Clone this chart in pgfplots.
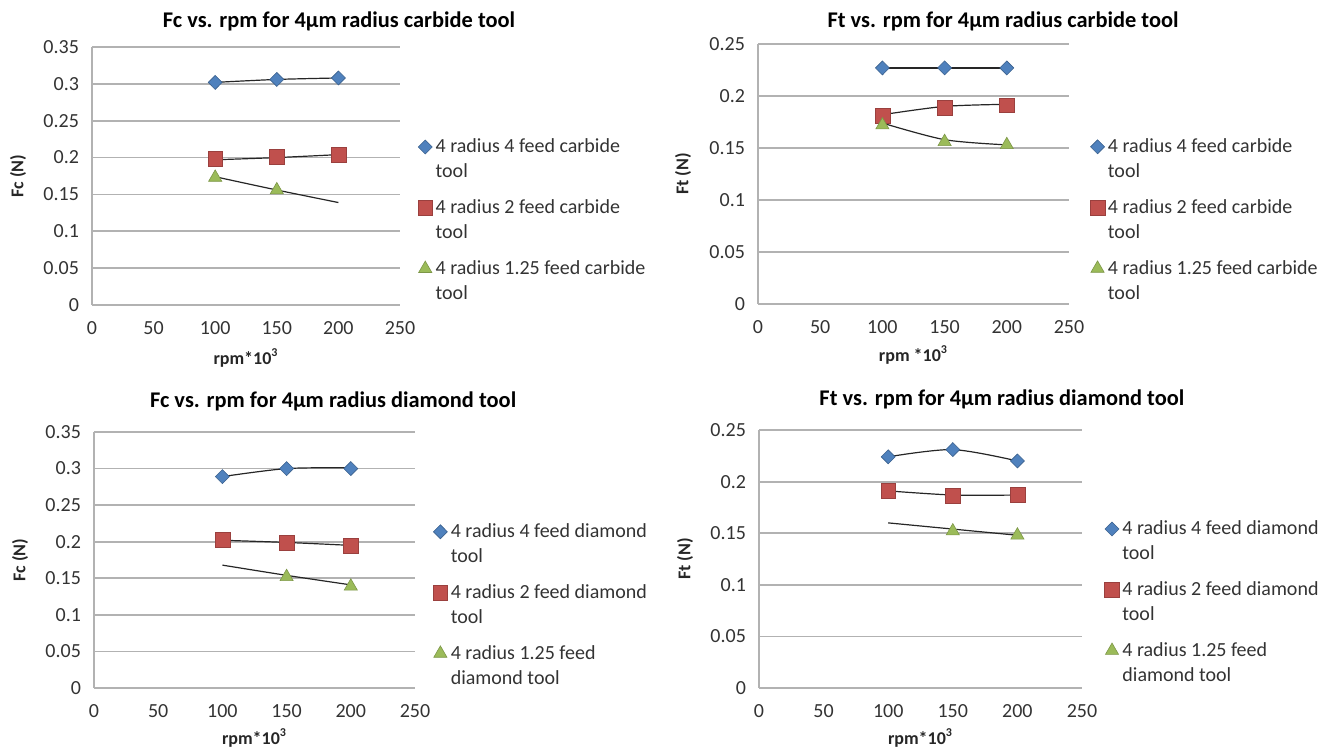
\documentclass[border=0pt]{standalone}
\usepackage{fontspec}
\setmainfont{Carlito}
\usepackage{pgfplots}
\pgfplotsset{compat=1.18}
\definecolor{blueM}{HTML}{4F81BD}
\definecolor{redM}{HTML}{C0504D}
\definecolor{greenM}{HTML}{9BBB59}
\pgfplotsset{
  every axis title shift=0pt,
  panel/.style={
    scale only axis, anchor=south west, clip=false,
    xmin=0, xmax=250, ymin=0, xtick={0,50,...,250},
    axis x line*=bottom, axis y line*=left,
    axis line style={gray!60, line width=0.9pt, -},
    ymajorgrids, grid style={gray!60, line width=0.9pt},
    major tick length=0pt,
    tick label style={font=\fontsize{10}{12}\selectfont, text=black!80},
    /pgf/number format/assume math mode=true,
    scaled y ticks=false,
    yticklabel style={/pgf/number format/fixed, /pgf/number format/precision=2, xshift=-3pt},
    xticklabel style={yshift=-4.5pt},
    title style={font=\bfseries\fontsize{11.2}{13}\selectfont, anchor=center},
    label style={font=\bfseries\fontsize{9}{11}\selectfont, text=black!85},
    legend style={draw=none, fill=none, anchor=north west, inner sep=0pt, outer sep=0pt,
      cells={anchor=base west}, nodes={inner sep=0pt, text depth={}, text=black!80},
      column sep=1.5pt, row sep=10.9pt, font=\fontsize{10}{12.5}\selectfont},
    legend image code/.code={\draw[mark repeat=2,mark phase=2,##1] plot coordinates {(0pt,3pt)(5pt,3pt)(10pt,3pt)};},
  },
  sB/.style={only marks, mark=diamond*, mark size=3.5pt, color=blueM, mark options={xscale=1.33, fill=blueM, draw=blueM!75!black, line width=0.3pt}},
  sR/.style={only marks, mark=square*, mark size=3.7pt, color=redM, mark options={fill=redM, draw=redM!80!black, line width=0.3pt}},
  sG/.style={only marks, mark=triangle*, mark size=3.8pt, color=greenM, mark options={fill=greenM, draw=greenM!80!black, line width=0.3pt}},
  tr/.style={black!85, line width=0.6pt, smooth, forget plot, mark=none},
}
\newcommand{\two}[2]{\vtop{\hbox{#1}\hbox{#2}}}
\begin{document}
\begin{tikzpicture}
\useasboundingbox (0,0) rectangle (669pt,375pt);
% Panel 1
\begin{axis}[panel, at={(46pt,222.5pt)}, width=154pt, height=129pt, ymax=0.35,
  ytick={0,0.05,...,0.35},
  title={Fc vs. rpm for 4µm radius carbide tool},
  title style={at={(axis description cs:0.802,1.100)}},
  xlabel={rpm*10\textsuperscript{3}}, xlabel style={at={(axis description cs:0.5,-0.205)}, anchor=center},
  ylabel={Fc (N)}, ylabel style={at={(axis description cs:-0.240,0.5)}, anchor=center},
  legend style={at={(axis description cs:1.058,0.643)}}]
\addplot[sB] coordinates {(100,0.302)(150,0.306)(200,0.308)};
\addlegendentry{\two{4 radius 4 feed carbide}{tool}}
\addplot[sR] coordinates {(100,0.198)(150,0.201)(200,0.204)};
\addlegendentry{\two{4 radius 2 feed carbide}{tool}}
\addplot[sG] coordinates {(100,0.173)(150,0.156)};
\addlegendentry{\two{4 radius 1.25 feed carbide}{tool}}
\addplot[tr] coordinates {(100,0.302)(150,0.306)(200,0.308)};
\addplot[tr] coordinates {(100,0.197)(150,0.200)(200,0.204)};
\addplot[tr] coordinates {(100,0.174)(150,0.156)(200,0.139)};
\end{axis}
% Panel 2
\begin{axis}[panel, at={(379pt,223pt)}, width=155.5pt, height=130pt, ymax=0.25,
  ytick={0,0.05,...,0.25},
  title={Ft vs. rpm for 4µm radius carbide tool},
  title style={at={(axis description cs:0.788,1.087)}},
  xlabel={rpm *10\textsuperscript{3}}, xlabel style={at={(axis description cs:0.5,-0.196)}, anchor=center},
  ylabel={Ft (N)}, ylabel style={at={(axis description cs:-0.241,0.5)}, anchor=center},
  legend style={at={(axis description cs:1.068,0.635)}}]
\addplot[sB] coordinates {(100,0.227)(150,0.227)(200,0.227)};
\addlegendentry{\two{4 radius 4 feed carbide}{tool}}
\addplot[sR] coordinates {(100,0.181)(150,0.189)(200,0.191)};
\addlegendentry{\two{4 radius 2 feed carbide}{tool}}
\addplot[sG] coordinates {(100,0.172)(150,0.156)(200,0.153)};
\addlegendentry{\two{4 radius 1.25 feed carbide}{tool}}
\addplot[tr] coordinates {(100,0.227)(150,0.227)(200,0.227)};
\addplot[tr] coordinates {(100,0.182)(150,0.190)(200,0.192)};
\addplot[tr] coordinates {(100,0.174)(150,0.158)(200,0.153)};
\end{axis}
% Panel 3
\begin{axis}[panel, at={(47pt,31pt)}, width=160.5pt, height=128pt, ymax=0.35,
  ytick={0,0.05,...,0.35},
  title={Fc vs. rpm for 4µm radius diamond tool},
  title style={at={(axis description cs:0.745,1.120)}},
  xlabel={rpm*10\textsuperscript{3}}, xlabel style={at={(axis description cs:0.5,-0.195)}, anchor=center},
  ylabel={Fc (N)}, ylabel style={at={(axis description cs:-0.230,0.5)}, anchor=center},
  legend style={at={(axis description cs:1.056,0.641)}}]
\addplot[sB] coordinates {(100,0.289)(150,0.300)(200,0.300)};
\addlegendentry{\two{4 radius 4 feed diamond}{tool}}
\addplot[sR] coordinates {(100,0.203)(150,0.199)(200,0.194)};
\addlegendentry{\two{4 radius 2 feed diamond}{tool}}
\addplot[sG] coordinates {(150,0.152)(200,0.139)};
\addlegendentry{\two{4 radius 1.25 feed}{diamond tool}}
\addplot[tr] coordinates {(100,0.289)(150,0.300)(200,0.301)};
\addplot[tr] coordinates {(100,0.202)(150,0.199)(200,0.195)};
\addplot[tr] coordinates {(100,0.168)(150,0.154)(200,0.141)};
\end{axis}
% Panel 4
\begin{axis}[panel, at={(379.5pt,31pt)}, width=161.5pt, height=129pt, ymax=0.25,
  ytick={0,0.05,...,0.25},
  title={Ft vs. rpm for 4µm radius diamond tool},
  title style={at={(axis description cs:0.752,1.119)}},
  xlabel={rpm*10\textsuperscript{3}}, xlabel style={at={(axis description cs:0.5,-0.194)}, anchor=center},
  ylabel={Ft (N)}, ylabel style={at={(axis description cs:-0.229,0.5)}, anchor=center},
  legend style={at={(axis description cs:1.070,0.647)}}]
\addplot[sB] coordinates {(100,0.224)(150,0.231)(200,0.220)};
\addlegendentry{\two{4 radius 4 feed diamond}{tool}}
\addplot[sR] coordinates {(100,0.191)(150,0.186)(200,0.187)};
\addlegendentry{\two{4 radius 2 feed diamond}{tool}}
\addplot[sG] coordinates {(150,0.152)(200,0.148)};
\addlegendentry{\two{4 radius 1.25 feed}{diamond tool}}
\addplot[tr] coordinates {(100,0.224)(150,0.231)(200,0.220)};
\addplot[tr] coordinates {(100,0.191)(150,0.187)(200,0.187)};
\addplot[tr] coordinates {(100,0.160)(150,0.154)(200,0.148)};
\end{axis}
\end{tikzpicture}
\end{document}
